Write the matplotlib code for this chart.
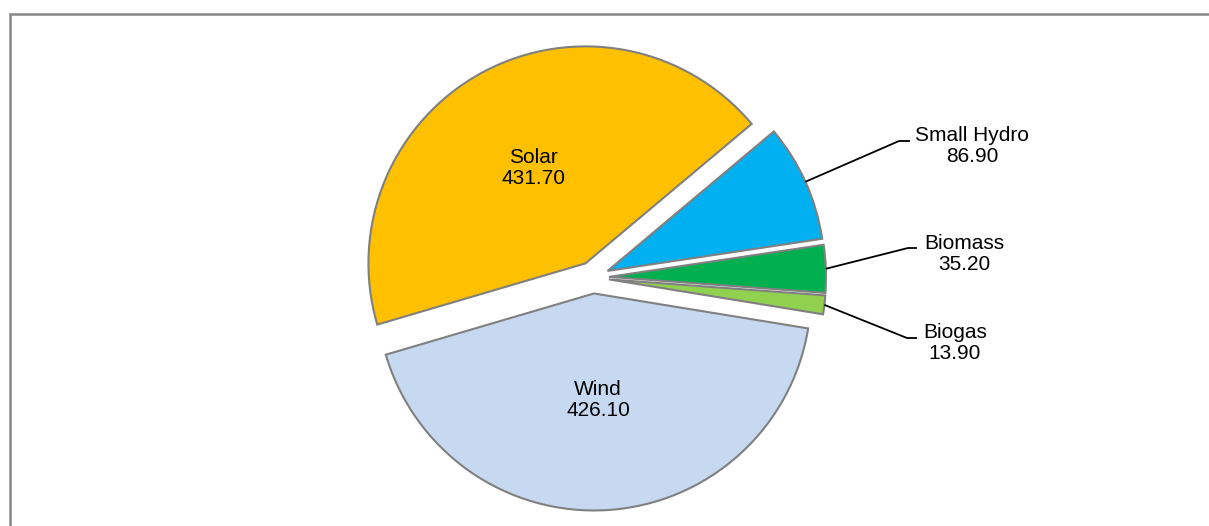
import math
import matplotlib
matplotlib.use("Agg")
import matplotlib.pyplot as plt
from matplotlib.patches import Rectangle

# ---- data ----
categories = ["Small Hydro", "Biomass", "Biogas", "Wind", "Solar"]
values = [86.90, 35.20, 13.90, 426.10, 431.70]
colors = ["#00B0F0", "#00B050", "#92D050", "#C6D9F0", "#FFC000"]

W, H = 1209, 526
plt.rcParams['font.family'] = ['Liberation Sans', 'DejaVu Sans']

fig = plt.figure(figsize=(W / 100, H / 100), dpi=100)
ax = fig.add_axes([0, 0, 1, 1])

def Y(y_img):
    return H - y_img

center = (593, Y(277.5))
radius = 217
explode = [16] * len(values)

wedges, _ = ax.pie(values, colors=colors, startangle=40, counterclock=False,
                   radius=radius, center=center, explode=explode,
                   wedgeprops=dict(edgecolor="#808080", linewidth=1.5),
                   frame=False)

ax.set_xlim(0, W)
ax.set_ylim(0, H)
ax.set_aspect('equal', adjustable='box')
ax.axis('off')

fs = 15
# inside labels
inside = {"Solar": (533, 168), "Wind": (598, 400)}
# outside labels: text center, elbow point, elbow end
outside = {
    "Small Hydro": ((972, 146), (899, 141), (910, 141)),
    "Biomass": ((964, 254), (908, 248), (917, 248)),
    "Biogas": ((955, 343), (907, 338), (917, 338)),
}

for w, cat, val in zip(wedges, categories, values):
    txt = f"{cat}\n{val:.2f}"
    if cat in inside:
        x, y = inside[cat]
        ax.text(x, Y(y), txt, ha='center', va='center', fontsize=fs,
                linespacing=1.1, color='black')
    else:
        (tx, ty), (ex, ey), (hx, hy) = outside[cat]
        thm = math.radians((w.theta1 + w.theta2) / 2)
        cx, cy = w.center
        sx = cx + w.r * math.cos(thm)
        sy = cy + w.r * math.sin(thm)
        ax.plot([sx, ex, hx], [sy, Y(ey), Y(hy)], color='black', lw=1.3,
                solid_capstyle='butt')
        ax.text(tx, Y(ty), txt, ha='center', va='center', fontsize=fs,
                linespacing=1.1, color='black')

# chart border (gray frame, partially cropped)
fig.patches.append(Rectangle((9.5 / W, -0.1), 1.2, (H - 13.5) / H + 0.1,
                             transform=fig.transFigure, fill=False,
                             edgecolor="#878787", linewidth=1.8))

fig.savefig("out.png", dpi=100)
